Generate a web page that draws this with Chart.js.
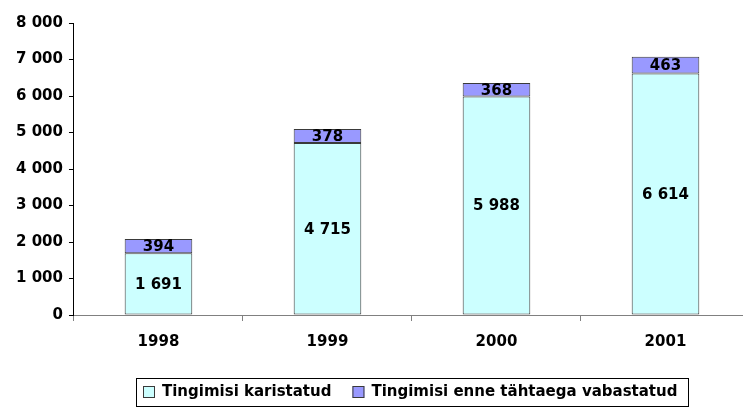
<!DOCTYPE html>
<html>
<head>
<meta charset="utf-8">
<script src="https://cdn.jsdelivr.net/npm/chart.js@4"></script>
<style>
  html, body { margin: 0; padding: 0; background: #fff; overflow: hidden; }
</style>
</head>
<body>
<canvas id="karistatud_bar" width="750" height="409"></canvas>
<script>
const years = ['1998', '1999', '2000', '2001'];
const tingimisi_karistatud = [1691, 4715, 5988, 6614];
const enne_tahtaega_vabastatud = [394, 378, 368, 463];
const y_ticks = [0, 1000, 2000, 3000, 4000, 5000, 6000, 7000, 8000];

const FONT = 'DejaVu Sans';

function spaced(v) {
    return String(v).replace(/\B(?=(\d{3})+(?!\d))/g, ' ');
}

// value labels in the middle of every bar segment
const segment_labels = {
    id: 'segment_labels',
    afterDatasetsDraw(chart) {
        const ctx = chart.ctx;
        ctx.save();
        ctx.font = 'bold 15px "' + FONT + '"';
        ctx.fillStyle = '#000';
        ctx.textAlign = 'center';
        ctx.textBaseline = 'middle';
        chart.data.datasets.forEach((ds, i) => {
            chart.getDatasetMeta(i).data.forEach((bar, j) => {
                const y = (bar.y + bar.base) / 2;
                ctx.fillText(spaced(ds.data[j]), bar.x, y + 1);
            });
        });
        ctx.restore();
    }
};

// boxed legend under the axis, one row
const framed_legend = {
    id: 'framed_legend',
    afterDraw(chart) {
        const ctx = chart.ctx;
        const box = 12, gap = 7, between = 21, padL = 7, padR = 11;
        const centerX = 412, top = 378, height = 28;
        ctx.save();
        ctx.font = 'bold 15px "' + FONT + '"';
        const items = chart.data.datasets.map(ds => ({
            text: ds.label,
            color: ds.backgroundColor,
            w: ctx.measureText(ds.label).width
        }));
        let total = padL + padR;
        items.forEach((it, i) => {
            total += box + gap + it.w + (i < items.length - 1 ? between : 0);
        });
        const left = Math.round(centerX - total / 2);
        ctx.strokeStyle = '#000';
        ctx.lineWidth = 1;
        ctx.strokeRect(left + 0.5, top + 0.5, Math.round(total), height);

        const midY = top + height / 2;
        let x = left + padL;
        items.forEach(it => {
            ctx.fillStyle = it.color;
            ctx.fillRect(x, Math.round(midY - box / 2), box, box);
            ctx.strokeStyle = '#3a3a3a';
            ctx.strokeRect(x + 0.5, Math.round(midY - box / 2) + 0.5, box - 1, box - 1);
            x += box + gap;
            ctx.fillStyle = '#000';
            ctx.textAlign = 'left';
            ctx.textBaseline = 'middle';
            ctx.fillText(it.text, x, midY);
            x += it.w + between;
        });
        ctx.restore();
    }
};

const karistatud_bar = document.getElementById('karistatud_bar').getContext('2d');
new Chart(karistatud_bar, {
    type: 'bar',
    data: {
        labels: years,
        datasets: [{
            label: 'Tingimisi karistatud',
            data: tingimisi_karistatud,
            backgroundColor: '#CCFFFF',
            borderColor: '#3a3a3a',
            borderWidth: 1,
            borderSkipped: false,
        }, {
            label: 'Tingimisi enne tähtaega vabastatud',
            data: enne_tahtaega_vabastatud,
            backgroundColor: '#9999FF',
            borderColor: '#3a3a3a',
            borderWidth: 1,
            borderSkipped: false,
        }]
    },
    options: {
        responsive: false,
        animation: false,
        categoryPercentage: 0.4,
        barPercentage: 1,
        layout: {
            padding: { top: 23, left: 10, right: 0, bottom: 50 }
        },
        plugins: {
            title: { display: false },
            tooltip: { enabled: false },
            legend: { display: false },
        },
        scales: {
            x: {
                stacked: true,
                afterFit(axis) {
                    axis.height = 44;
                },
                border: { color: '#808080', width: 1 },
                grid: {
                    offset: true,
                    drawOnChartArea: false,
                    tickLength: 6,
                    color: '#808080',
                },
                ticks: {
                    color: '#000',
                    font: { family: FONT, size: 15, weight: 'bold' },
                    padding: 12,
                },
            },
            y: {
                stacked: true,
                min: 0,
                max: 8000,
                afterBuildTicks(axis) {
                    axis.ticks = y_ticks.map(v => ({ value: v }));
                },
                border: { color: '#000', width: 1 },
                grid: {
                    drawOnChartArea: false,
                    tickLength: 5,
                    color: '#000',
                },
                ticks: {
                    color: '#000',
                    font: { family: FONT, size: 15, weight: 'bold' },
                    padding: 6,
                    callback: v => spaced(v),
                },
            },
        }
    },
    plugins: [segment_labels, framed_legend]
});
</script>
</body>
</html>
